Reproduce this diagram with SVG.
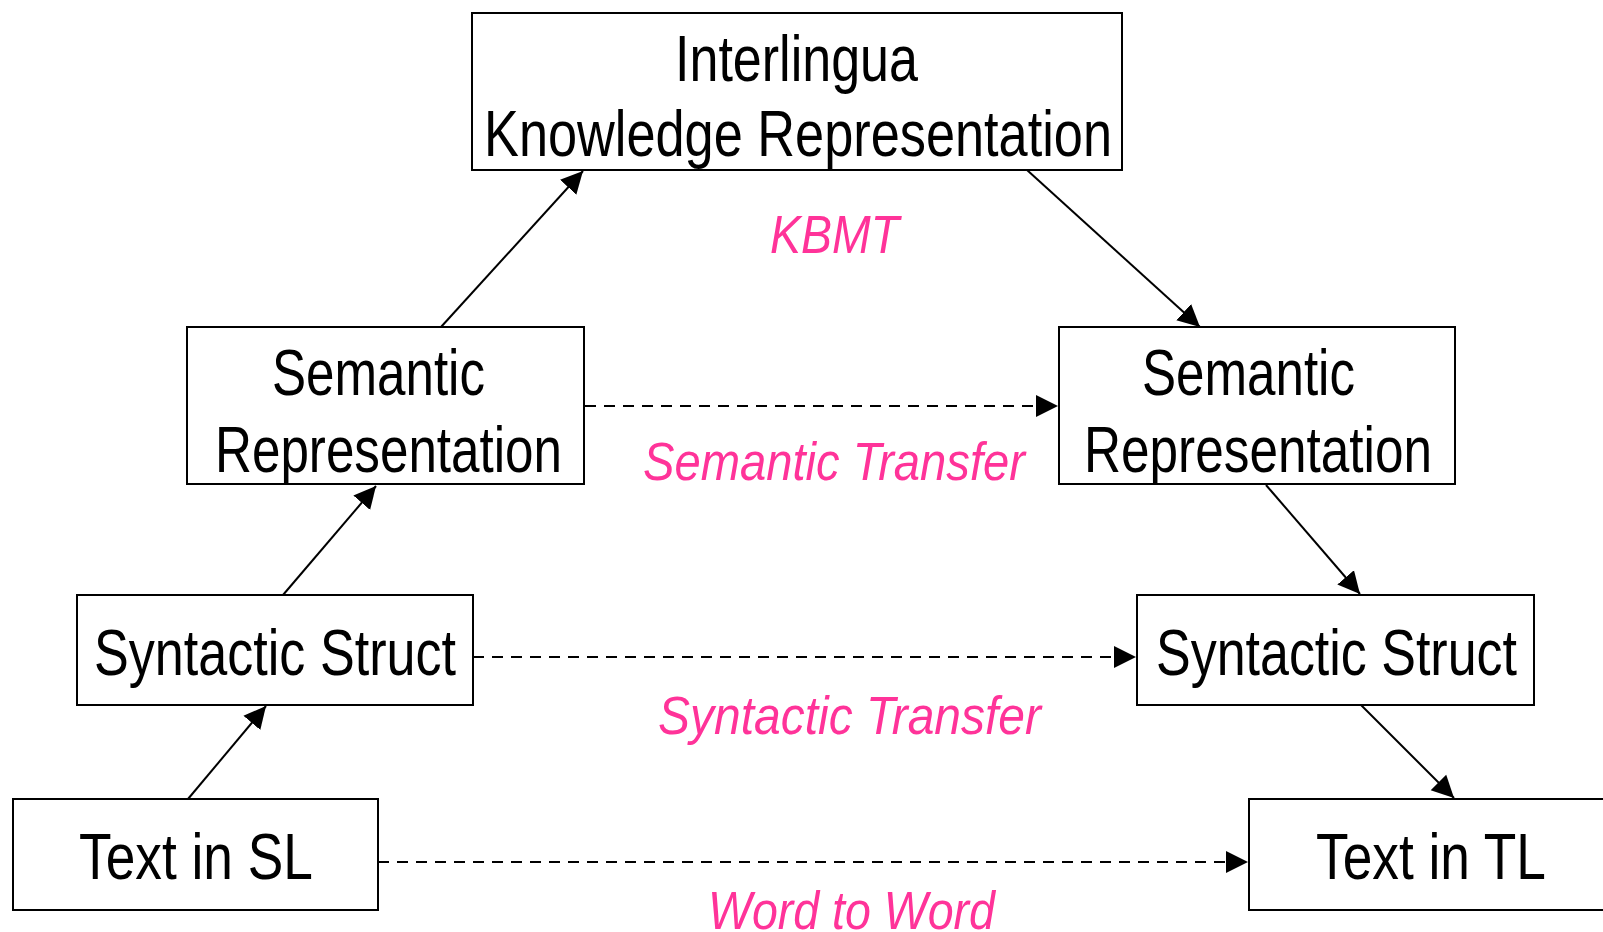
<svg xmlns="http://www.w3.org/2000/svg" width="1603" height="932" viewBox="0 0 1603 932">
  <style>
    .box { fill: #ffffff; stroke: #000000; stroke-width: 2; }
    .lbl { font-family: "Liberation Sans Narrow", "Liberation Sans", Arial, sans-serif; font-size: 65px; fill: #000000; }
    .tag { font-family: "Liberation Sans Narrow", "Liberation Sans", Arial, sans-serif; font-size: 53px; font-style: italic; fill: #ff3399; }
    .edge { stroke: #000000; stroke-width: 2; fill: none; marker-end: url(#arrow); }
    .dash { stroke-dasharray: 11 8; }
  </style>
  <defs>
    <marker id="arrow" markerUnits="userSpaceOnUse" markerWidth="24" markerHeight="24" viewBox="0 0 24 24" refX="22" refY="12" orient="auto">
      <path d="M0,1 L22,12 L0,23 Z" fill="#000000"/>
    </marker>
  </defs>

  <rect width="1603" height="932" fill="#ffffff"/>

  <!-- connectors -->
  <g id="connectors">
    <line class="edge" x1="188" y1="799" x2="266" y2="706"/>
    <line class="edge" x1="283" y1="595" x2="376" y2="486"/>
    <line class="edge" x1="441" y1="327" x2="583" y2="171"/>
    <line class="edge" x1="1027" y1="170" x2="1200" y2="327"/>
    <line class="edge" x1="1266" y1="485" x2="1360" y2="594"/>
    <line class="edge" x1="1361" y1="705" x2="1454" y2="798"/>
    <line class="edge dash" x1="585" y1="406" x2="1058" y2="406"/>
    <line class="edge dash" x1="473" y1="657" x2="1136" y2="657"/>
    <line class="edge dash" x1="378" y1="862" x2="1248" y2="862"/>
  </g>

  <!-- nodes -->
  <g id="interlingua">
    <rect class="box" x="472" y="13" width="650" height="157"/>
    <text class="lbl" x="675" y="81" textLength="243" lengthAdjust="spacingAndGlyphs">Interlingua</text>
    <text class="lbl" x="484" y="156" textLength="628" lengthAdjust="spacingAndGlyphs">Knowledge Representation</text>
  </g>
  <g id="semantic-sl">
    <rect class="box" x="187" y="327" width="397" height="157"/>
    <text class="lbl" x="272" y="395" textLength="213" lengthAdjust="spacingAndGlyphs">Semantic</text>
    <text class="lbl" x="215" y="472" textLength="347" lengthAdjust="spacingAndGlyphs">Representation</text>
  </g>
  <g id="semantic-tl">
    <rect class="box" x="1059" y="327" width="396" height="157"/>
    <text class="lbl" x="1142" y="395" textLength="213" lengthAdjust="spacingAndGlyphs">Semantic</text>
    <text class="lbl" x="1084" y="472" textLength="348" lengthAdjust="spacingAndGlyphs">Representation</text>
  </g>
  <g id="syntactic-sl">
    <rect class="box" x="77" y="595" width="396" height="110"/>
    <text class="lbl" x="94" y="675" textLength="362" lengthAdjust="spacingAndGlyphs">Syntactic Struct</text>
  </g>
  <g id="syntactic-tl">
    <rect class="box" x="1137" y="595" width="397" height="110"/>
    <text class="lbl" x="1156" y="675" textLength="361" lengthAdjust="spacingAndGlyphs">Syntactic Struct</text>
  </g>
  <g id="text-sl">
    <rect class="box" x="13" y="799" width="365" height="111"/>
    <text class="lbl" x="79" y="879" textLength="234" lengthAdjust="spacingAndGlyphs">Text in SL</text>
  </g>
  <g id="text-tl">
    <rect class="box" x="1249" y="799" width="370" height="111"/>
    <text class="lbl" x="1316" y="879" textLength="230" lengthAdjust="spacingAndGlyphs">Text in TL</text>
  </g>

  <!-- approach labels -->
  <g id="labels">
    <text class="tag" x="770" y="253" textLength="129" lengthAdjust="spacingAndGlyphs">KBMT</text>
    <text class="tag" x="643" y="480" textLength="382" lengthAdjust="spacingAndGlyphs">Semantic Transfer</text>
    <text class="tag" x="658" y="734" textLength="383" lengthAdjust="spacingAndGlyphs">Syntactic Transfer</text>
    <text class="tag" x="708" y="929" textLength="287" lengthAdjust="spacingAndGlyphs">Word to Word</text>
  </g>
</svg>
